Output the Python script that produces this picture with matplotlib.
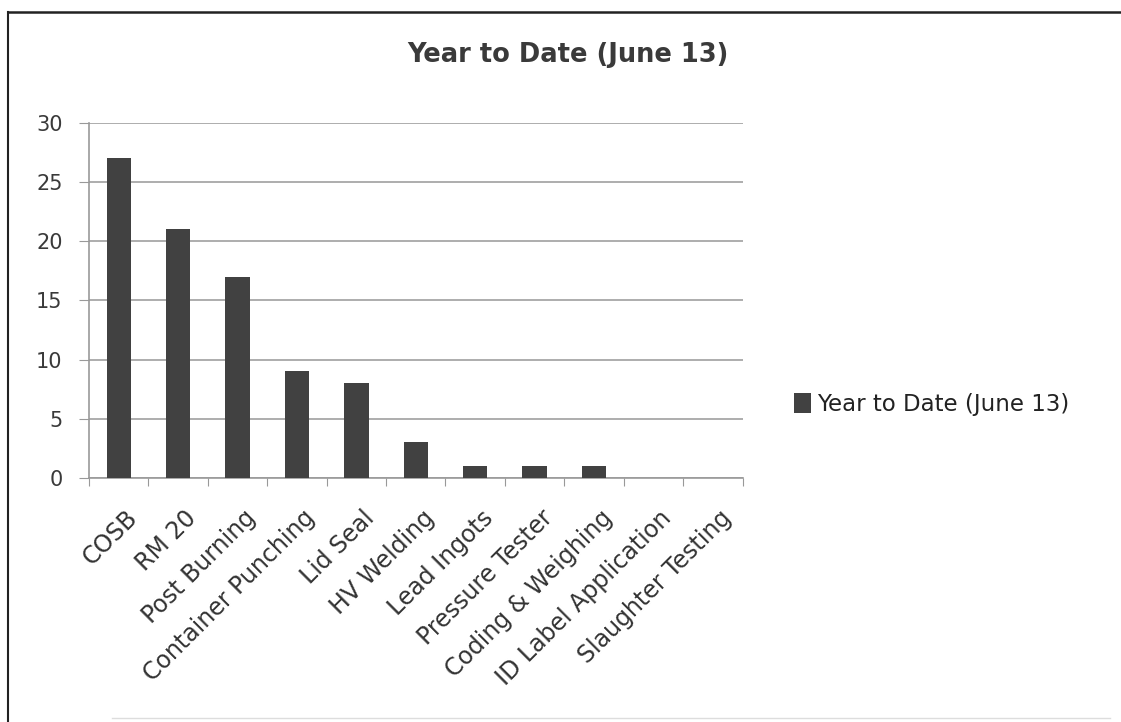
import matplotlib
matplotlib.use("Agg")
import matplotlib.pyplot as plt
import matplotlib.transforms as mtransforms
from matplotlib.lines import Line2D
import numpy as np

categories = ["COSB", "RM 20", "Post Burning", "Container Punching", "Lid Seal",
              "HV Welding", "Lead Ingots", "Pressure Tester", "Coding & Weighing",
              "ID Label Application", "Slaughter Testing"]
values = [27, 21, 17, 9, 8, 3, 1, 1, 1, 0, 0]
series_name = "Year to Date (June 13)"
yticks = [0, 5, 10, 15, 20, 25, 30]

fig = plt.figure(figsize=(11.21, 7.22), dpi=100)
ax = fig.add_axes([0.0794, 0.338, 0.583, 0.492])

x = np.arange(len(categories))
ax.bar(x, values, width=0.41, color="#414141", label=series_name, zorder=3)

ax.set_xlim(-0.5, len(categories) - 0.5)
ax.set_ylim(0, 30)
ax.set_yticks(yticks)
ax.tick_params(axis="y", length=7, color="#999999", labelsize=15, labelcolor="#3a3a3a", pad=12)
ax.yaxis.grid(True, color="#a0a0a0", linewidth=1.2)
ax.set_axisbelow(True)

# category ticks sit between bars, labels at bar centres
ax.set_xticks(np.arange(len(categories) + 1) - 0.5)
ax.set_xticklabels([])
ax.set_xticks(x, minor=True)
ax.set_xticklabels(categories, minor=True, rotation=45, ha="right",
                   rotation_mode="anchor", fontsize=17, color="#333333")
ax.tick_params(axis="x", which="major", length=6, color="#999999")
ax.tick_params(axis="x", which="minor", length=0, pad=20)
shift = mtransforms.ScaledTranslation(6 / 100, 0, fig.dpi_scale_trans)
for lbl in ax.get_xticklabels(minor=True):
    lbl.set_transform(lbl.get_transform() + shift)

for s in ["top", "right"]:
    ax.spines[s].set_visible(False)
ax.spines["left"].set_color("#999999")
ax.spines["bottom"].set_color("#999999")
ax.spines["left"].set_linewidth(1.2)
ax.spines["bottom"].set_linewidth(1.2)

fig.text(0.507, 0.924, series_name, ha="center", va="center",
         fontsize=18.5, fontweight="bold", color="#3a3a3a")

ax.legend(loc="center left", bbox_to_anchor=(1.047, 0.208), frameon=False,
          fontsize=16.5, handlelength=0.75, handleheight=1.0, handletextpad=0.25,
          labelcolor="#222222")

# scanned border: left and top edges
fig.lines.append(Line2D([0.007, 0.007], [0.0, 0.984], transform=fig.transFigure,
                        color="#222222", linewidth=1.5))
fig.lines.append(Line2D([0.007, 1.0], [0.984, 0.984], transform=fig.transFigure,
                        color="#222222", linewidth=1.8))
fig.lines.append(Line2D([0.1, 0.99], [0.006, 0.006], transform=fig.transFigure,
                        color="#dddddd", linewidth=1))

fig.savefig("out.png", dpi=100)
